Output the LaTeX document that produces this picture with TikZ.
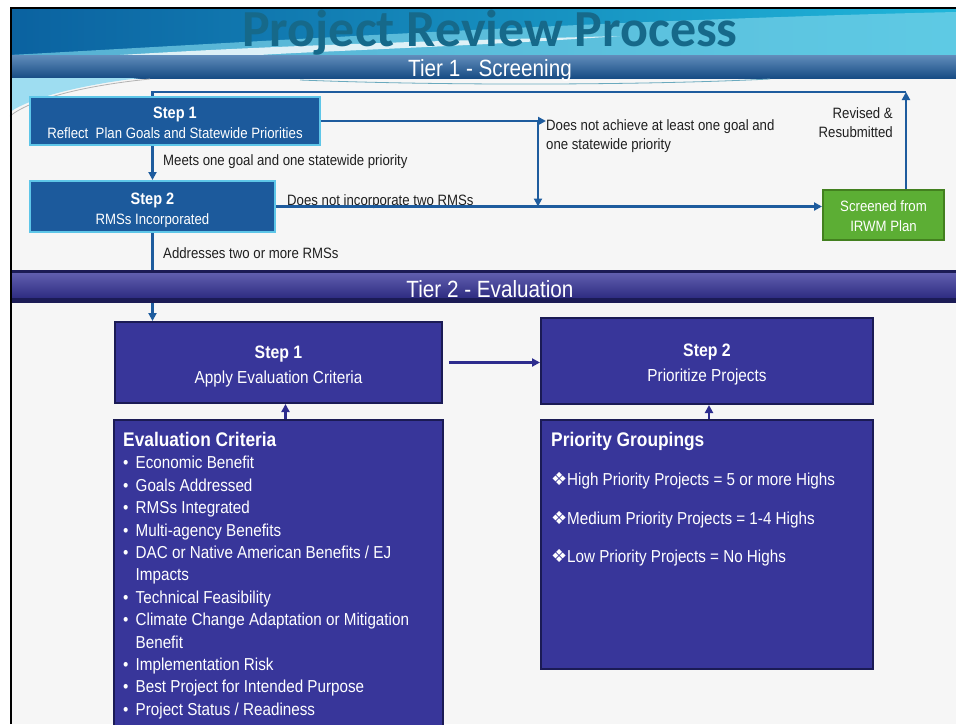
\documentclass[tikz,border=0pt]{standalone}
\usepackage{fontspec}
\setmainfont{Liberation Sans}[FakeStretch=0.88]
\newfontfamily\titlefont{Carlito}
\newfontfamily\dingfont{DejaVu Sans}
\usetikzlibrary{arrows.meta,positioning}

\definecolor{stepblue}{HTML}{1C5A9C}
\definecolor{stepedge}{HTML}{5EC6E8}
\definecolor{boxindigo}{HTML}{38369A}
\definecolor{boxedge}{HTML}{1B1B55}
\definecolor{flowblue}{HTML}{1E5C9E}
\definecolor{flowindigo}{HTML}{2D2C8E}
\definecolor{leafgreen}{HTML}{5CAE34}
\definecolor{leafedge}{HTML}{43801F}
\definecolor{titleteal}{HTML}{16698A}
\definecolor{notegrey}{HTML}{202020}
\definecolor{bodygrey}{HTML}{F6F6F6}
\definecolor{hdrdark}{HTML}{0B62A0}
\definecolor{hdrlight}{HTML}{20B6DA}

\newcommand{\stephead}[2]{{\fontsize{#1}{#1}\selectfont\bfseries #2}}
\newcommand{\dingitem}{\makebox[16pt][l]{\dingfont\fontsize{18}{18}\selectfont ❖}}
\newcommand{\critbullet}{\makebox[12.5pt][l]{\textbullet}}

\begin{document}
\begin{tikzpicture}[
    x=1pt, y=-1pt,
    tierone/.style={draw=stepedge, line width=2pt, fill=stepblue, text=white, align=center, inner sep=0pt, text depth=0pt, text height=35.3pt, font=\fontsize{15}{20}\selectfont},
    tiertwo/.style={draw=boxedge, line width=2pt, fill=boxindigo, text=white, align=center, inner sep=0pt, text depth=0pt, text height=41pt, font=\fontsize{17.4}{25}\selectfont},
    screenbox/.style={draw=leafedge, line width=2pt, fill=leafgreen, text=white, align=center, inner sep=0pt, text depth=0pt, text height=32.8pt, font=\fontsize{15}{20}\selectfont},
    panel/.style={draw=boxedge, line width=2pt, fill=boxindigo, inner sep=0pt},
    note/.style={text=notegrey, inner sep=0pt, align=left, font=\fontsize{15}{19}\selectfont},
    bartext/.style={text=white, inner sep=0pt, font=\fontsize{23.5}{23.5}\selectfont},
    flow/.style={-{Triangle[length=8pt,width=8pt]}, line width=2.2pt, draw=flowblue},
    flowtwo/.style={-{Triangle[length=8pt,width=8pt]}, line width=2.2pt, draw=flowindigo}
]
\useasboundingbox (0,0) rectangle (956,724);
\clip (0,0) rectangle (956,724);

% Background and header
\fill[white] (0,0) rectangle (956,724);
\fill[bodygrey] (10,78) rectangle (956,724);
\shade[left color=hdrdark, right color=hdrlight] (10,8) rectangle (956,55);
\fill[hdrlight!60!white, opacity=0.7] (10,55) .. controls (250,42) and (600,20) .. (956,12) -- (956,55) -- cycle;
\fill[white, opacity=0.8] (120,55) .. controls (300,44) and (480,40) .. (620,36) .. controls (480,46) and (300,52) .. (260,55) -- cycle;
\node[text=titleteal, inner sep=0pt, anchor=base, font=\titlefont\bfseries\fontsize{52}{52}\selectfont] (title) at (490,46) {Project Review Process};

% Tier 1 bar
\shade[top color=flowblue!70!white, bottom color=stepblue!85!black] (10,55) rectangle (956,78);
\node[bartext, anchor=base] (tierone) at (490,76) {Tier 1 - Screening};
\fill[stepedge!60!white] (10,78) -- (140,78) .. controls (80,85) and (30,98) .. (10,112) -- cycle;
\draw[black!30, line width=0.8pt] (10,116) .. controls (30,100) and (80,86) .. (150,79);
\draw[stepedge!60!gray, line width=0.8pt] (300,80) .. controls (450,86) and (650,85) .. (770,79);

% Tier 1 steps
\node[tierone, minimum width=290pt, minimum height=48pt] (s1) at (175,121) {\stephead{16.5}{Step 1}\\Reflect\ \ Plan Goals and Statewide Priorities};
\node[tierone, minimum width=245pt, minimum height=51pt] (s2) at (152.5,206.5) {\stephead{16.5}{Step 2}\\RMSs Incorporated};
\node[screenbox, minimum width=121pt, minimum height=50pt] (screened) at (883.5,215) {Screened from\\IRWM Plan};

% Tier 1 labels
\node[note, anchor=west] (meets) at (163,162) {Meets one goal and one statewide priority};
\node[note, anchor=north west] (fail1) at (546,119) {Does not achieve at least one goal and\\one statewide priority};
\node[note, anchor=south west] (fail2) at (287,209) {Does not incorporate two RMSs};
\node[note, anchor=west] (addresses) at (163,253) {Addresses two or more RMSs};
\node[note, anchor=north east, align=right] (revised) at (893,107) {Revised \&\\Resubmitted};

% Tier 1 connectors
\coordinate (split) at (538,121);
\coordinate (loop) at (906,92);
\draw[flow] (s2.north |- s1.south) -- (s2.north);
\draw[flow] (s1.east) -- (split) -- (fail1.west |- split);
\draw[flow] (split) -- (split |- s2.east);
\draw[flow] (s2.east) -- (s2.east -| screened.west);
\draw[flow] ([xshift=22.5pt]screened.north) -- (loop);
\draw[flowblue, line width=2.2pt] (loop) -- (s2.north |- loop) -- (s2.north |- s1.north);

% Tier 2 steps
\node[tiertwo, minimum width=327pt, minimum height=81pt] (ev1) at (278.5,362.5) {\stephead{18}{Step 1}\\Apply Evaluation Criteria};
\node[tiertwo, minimum width=332pt, minimum height=86pt] (ev2) at (707,361) {\stephead{18}{Step 2}\\Prioritize Projects};
\node[panel, minimum width=329pt, minimum height=310pt] (crit) at (278.5,575) {};
\node[panel, minimum width=332pt, minimum height=249pt] (prio) at (707,544.5) {};

\node[text=white, inner sep=0pt, align=left, anchor=north west, font=\fontsize{17.3}{22.4}\selectfont] (critlist) at (123,432) {%
\stephead{19.7}{Evaluation Criteria}\\
\critbullet Economic Benefit\\
\critbullet Goals Addressed\\
\critbullet RMSs Integrated\\
\critbullet Multi-agency Benefits\\
\critbullet DAC or Native American Benefits / EJ\\
\hspace*{12.5pt}Impacts\\
\critbullet Technical Feasibility\\
\critbullet Climate Change Adaptation or Mitigation\\
\hspace*{12.5pt}Benefit\\
\critbullet Implementation Risk\\
\critbullet Best Project for Intended Purpose\\
\critbullet Project Status / Readiness};

\node[text=white, inner sep=0pt, align=left, anchor=north west, font=\fontsize{17.3}{22.4}\selectfont] (priolist) at (551,432) {%
\stephead{19.7}{Priority Groupings}\\[17pt]
\dingitem High Priority Projects = 5 or more Highs\\[16pt]
\dingitem Medium Priority Projects = 1-4 Highs\\[16pt]
\dingitem Low Priority Projects = No Highs};

% Tier 2 connectors
\draw[flow] (s2.south) -- (s2.south |- ev1.north);
\draw[flowtwo, shorten <=6pt] (ev1.east) -- (ev1.east -| ev2.west);
\draw[flowtwo] ([xshift=7pt]crit.north) -- ([xshift=7pt]crit.north |- ev1.south);
\draw[flowtwo] ([xshift=2pt]prio.north) -- ([xshift=2pt]prio.north |- ev2.south);

% Tier 2 bar
\fill[boxedge] (10,270) rectangle (956,303);
\shade[top color=boxindigo!80!white, bottom color=boxindigo!85!black] (10,273) rectangle (956,297);
\node[bartext, anchor=base] (tiertwo) at (490,297) {Tier 2 - Evaluation};

% Frame
\draw[black, line width=2pt] (11,724) -- (11,8) -- (956,8);
\end{tikzpicture}
\end{document}
